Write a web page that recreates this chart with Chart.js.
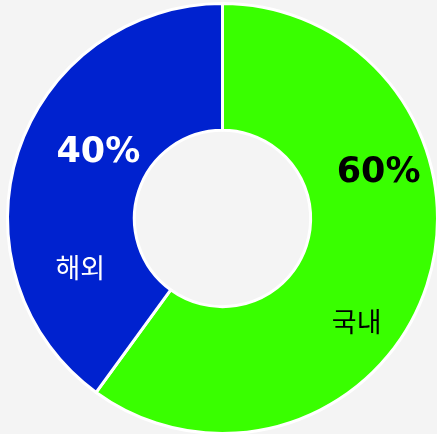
<!DOCTYPE html>
<html>
<head>
<meta charset="utf-8">
<style>
    html, body { margin: 0; padding: 0; background: #f4f4f4; overflow: hidden; }
    .wrap { position: relative; width: 437px; height: 434px; overflow: hidden; }
</style>
</head>
<body>
<div class="wrap">
    <canvas id="myChart" width="446" height="438"></canvas>
</div>

<script src="https://cdn.jsdelivr.net/npm/chart.js@4.4.0/dist/chart.umd.min.js"></script>
<script>
    // data
    const categories = ['국내', '해외']
    const shares = [60, 40]
    const colors = ['#39ff00', '#0022cf']
    const textColors = ['#000000', '#ffffff']

    // label offsets from the middle of each arc: [pctX, pctY, nameX, nameY]
    const labelOffsets = [[12, -92, -10, 56], [20, -19, 2, 96]]

    const sliceLabels = {
        id: 'sliceLabels',
        afterDatasetsDraw(chart) {
            const ctx = chart.ctx
            const meta = chart.getDatasetMeta(0)
            const total = shares.reduce((a, b) => a + b, 0)
            meta.data.forEach((arc, i) => {
                const p = arc.getCenterPoint()
                const off = labelOffsets[i]
                const pct = Math.round(shares[i] / total * 100) + '%'
                ctx.save()
                ctx.fillStyle = textColors[i]
                ctx.textAlign = 'center'
                ctx.textBaseline = 'middle'
                ctx.font = 'bold 35px "DejaVu Sans", sans-serif'
                ctx.fillText(pct, p.x + off[0], p.y + off[1])
                ctx.font = '27px "Noto Sans CJK KR", sans-serif'
                ctx.fillText(categories[i], p.x + off[2], p.y + off[3])
                ctx.restore()
            })
        }
    }

    const ctx = document.getElementById('myChart').getContext('2d')
    const chart = new Chart(ctx, {
        type: 'doughnut',
        data: {
            labels: categories,
            datasets: [{
                data: shares,
                backgroundColor: colors,
                borderColor: '#ffffff',
                borderWidth: 3
            }]
        },
        options: {
            responsive: false,
            maintainAspectRatio: false,
            animation: false,
            cutout: '41%',
            layout: { padding: { left: 6, top: 2, right: 7, bottom: 3 } },
            plugins: {
                legend: { display: false },
                tooltip: { enabled: false }
            }
        },
        plugins: [sliceLabels]
    })
</script>
</body>
</html>
